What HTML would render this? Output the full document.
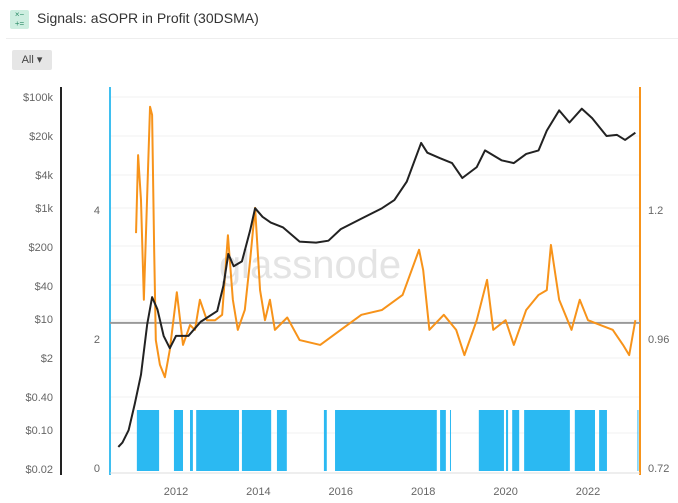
<!DOCTYPE html>
<html><head><meta charset="utf-8"><style>
body{margin:0;width:678px;height:503px;background:#fff;font-family:"Liberation Sans",sans-serif;overflow:hidden;position:relative}
.t{position:absolute}
</style></head><body>
<div class="t" style="left:10px;top:10px;width:19px;height:19px;background:#cdeee0;border-radius:2px;font-size:8px;line-height:9px;color:#2a8a66;text-align:center">×−<br>+=</div>
<div class="t" style="left:37px;top:10px;font-size:14px;color:#333">Signals: aSOPR in Profit (30DSMA)</div>
<div class="t" style="left:6px;top:38px;width:672px;height:1px;background:#eee"></div>
<div class="t" style="left:12px;top:50px;width:40px;height:20px;background:#e6e6e6;border-radius:2px;font-size:11px;line-height:20px;color:#444;text-align:center">All ▾</div>
<svg class="t" style="left:0;top:0" width="678" height="503">
<g id="grid"></g>
<text x="310" y="278" font-size="40" fill="#e4e4e4" text-anchor="middle" font-family="Liberation Sans">glassnode</text>
<g id="bars"></g>
<line x1="61" y1="87" x2="61" y2="475" stroke="#222" stroke-width="2"/>
<line x1="110" y1="87" x2="110" y2="475" stroke="#3fbff0" stroke-width="2"/>
<line x1="640" y1="87" x2="640" y2="475" stroke="#f7931a" stroke-width="2"/>
<line x1="110" y1="473" x2="640" y2="473" stroke="#ddd"/>
<g id="marks"></g>
<g id="labels" font-size="11" fill="#666" font-family="Liberation Sans"></g>
</svg>
<script>
const priceTicks=["$100k","$20k","$4k","$1k","$200","$40","$10","$2","$0.40","$0.10","$0.02"];
const priceTickVals=[100000,20000,4000,1000,200,40,10,2,0.4,0.1,0.02];
const signalTicks=["4","2","0"];
const signalTickVals=[4,2,0];
const asoprTicks=["1.2","0.96","0.72"];
const asoprTickVals=[1.2,0.96,0.72];
const yearTicks=[2012,2014,2016,2018,2020,2022];
const priceYears=[2010.6,2010.7,2010.85,2011.0,2011.15,2011.3,2011.42,2011.55,2011.7,2011.85,2012.0,2012.3,2012.6,2013.0,2013.15,2013.27,2013.4,2013.6,2013.8,2013.92,2014.1,2014.3,2014.6,2015.0,2015.4,2015.7,2016.0,2016.5,2017.0,2017.3,2017.6,2017.95,2018.1,2018.4,2018.7,2018.95,2019.3,2019.5,2019.9,2020.2,2020.5,2020.8,2021.0,2021.3,2021.55,2021.85,2022.1,2022.45,2022.7,2022.9,2023.15];
const priceVals=[0.05,0.06,0.1,0.3,1.0,8,25,15,5,3,5,5,9,14,40,150,90,110,400,1000,700,550,450,250,240,260,420,650,1000,1400,3000,15000,10000,8000,6500,3500,5500,11000,7300,6500,9500,11000,25000,58000,35000,62000,42000,20000,21000,17000,23000];
const asoprYears=[2011.03,2011.08,2011.15,2011.22,2011.32,2011.37,2011.42,2011.47,2011.51,2011.61,2011.73,2011.85,2012.02,2012.17,2012.34,2012.46,2012.58,2012.75,2012.95,2013.12,2013.26,2013.38,2013.5,2013.67,2013.8,2013.92,2014.04,2014.16,2014.28,2014.4,2014.7,2015.0,2015.5,2016.0,2016.5,2017.0,2017.5,2017.9,2018.0,2018.15,2018.5,2018.8,2019.0,2019.3,2019.55,2019.7,2020.0,2020.2,2020.5,2020.8,2021.0,2021.1,2021.3,2021.6,2021.8,2022.0,2022.3,2022.6,2022.85,2023.0,2023.15];
const asoprVals=[1.157,1.302,1.219,1.033,1.274,1.392,1.377,1.126,0.958,0.912,0.889,0.94,1.047,0.949,0.986,0.977,1.033,0.995,0.995,1.005,1.153,1.033,0.977,1.014,1.107,1.204,1.051,0.995,1.033,0.977,1.0,0.958,0.949,0.977,1.005,1.014,1.042,1.126,1.088,0.977,1.005,0.977,0.93,0.995,1.07,0.977,0.995,0.949,1.014,1.042,1.051,1.135,1.033,0.977,1.033,0.995,0.986,0.977,0.949,0.93,0.995];
const signalStarts=[2011.05,2011.95,2012.34,2012.49,2013.6,2014.45,2015.59,2015.86,2018.41,2018.65,2019.35,2020.01,2020.16,2020.45,2021.68,2022.27,2023.2];
const signalEnds=[2011.59,2012.17,2012.41,2013.53,2014.31,2014.69,2015.66,2018.33,2018.55,2018.67,2019.96,2020.06,2020.33,2021.56,2022.17,2022.46,2023.22];
const signalLevel=1;
const refLevel=0.99;
const NS="http://www.w3.org/2000/svg";
const X=y=>176+(y-2012)*41.2;
const YP=p=>469-(Math.log10(p)-Math.log10(0.02))*55.5;
const YA=v=>468-(v-0.72)/0.24*129;
const YS=s=>468-s/2*129;
const YB=s=>471-s*61;
function mk(tag,parent,attrs){const e=document.createElementNS(NS,tag);for(const k in attrs)e.setAttribute(k,attrs[k]);document.getElementById(parent).appendChild(e);return e;}
[97,136,175,208,246,285,320,358,397,433].forEach(y=>{const l=mk('line','grid',{x1:110,x2:640,y1:y,y2:y,stroke:'#f2f2f2'});

});
for(let i=0;i<signalStarts.length;i++){const r=mk('rect','bars',{x:X(signalStarts[i]),y:YB(signalLevel),width:Math.max(1,X(signalEnds[i])-X(signalStarts[i])),height:YB(0)-YB(signalLevel),fill:'#2bb9f2'});

}
const g=mk('line','marks',{x1:110,x2:640,y1:YA(refLevel),y2:YA(refLevel),stroke:'#999','stroke-width':2});


const op=mk('polyline','marks',{points:asoprYears.map((y,i)=>X(y)+','+YA(asoprVals[i])).join(' '),fill:'none',stroke:'#f7931a','stroke-width':2,'stroke-linejoin':'round'});


const bp=mk('polyline','marks',{points:priceYears.map((y,i)=>X(y)+','+YP(priceVals[i])).join(' '),fill:'none',stroke:'#222','stroke-width':2,'stroke-linejoin':'round'});


priceTicks.forEach((t,i)=>{const e=mk('text','labels',{x:53,y:YP(priceTickVals[i])+4,'text-anchor':'end'});e.textContent=t;

});
signalTicks.forEach((t,i)=>{const e=mk('text','labels',{x:100,y:YS(signalTickVals[i])+4,'text-anchor':'end'});e.textContent=t;

});
asoprTicks.forEach((t,i)=>{const e=mk('text','labels',{x:648,y:YA(asoprTickVals[i])+4});e.textContent=t;

});
yearTicks.forEach(t=>{const e=mk('text','labels',{x:X(t),y:495,'text-anchor':'middle'});e.textContent=t;

});
</script>
</body></html>
